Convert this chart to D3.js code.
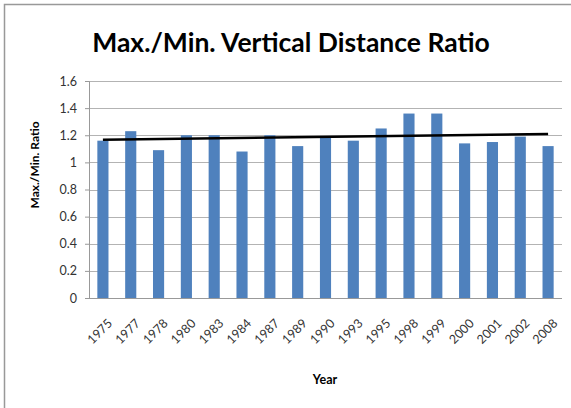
<!DOCTYPE html>
<html><head><meta charset="utf-8">
<script src="https://cdn.jsdelivr.net/npm/d3@7"></script>
<style>body{margin:0;background:#fff;}svg{display:block;}</style>
</head><body>
<script>
const years = ["1975","1977","1978","1980","1983","1984","1987","1989","1990","1993","1995","1998","1999","2000","2001","2002","2008"];
const ratios = [1.16,1.23,1.09,1.2,1.2,1.08,1.2,1.12,1.19,1.16,1.25,1.36,1.36,1.14,1.15,1.19,1.12];
const yTicks = [0,0.2,0.4,0.6,0.8,1,1.2,1.4,1.6];
const titleText = "Max./Min. Vertical Distance Ratio";
const yLabel = "Max./Min. Ratio";
const xLabel = "Year";

const W = 571, H = 408;
const m = {left: 89, right: 9, top: 81, bottom: 110};
const svg = d3.select("body").append("svg").attr("width", W).attr("height", H);
const font = "Lato, 'Open Sans', sans-serif";

// chart border (cropped on right/bottom)
svg.append("path").attr("d", `M4.5,${H} V4.5 H${W}`).attr("fill","none").attr("stroke","#999").attr("stroke-width",1.5);

const x = d3.scaleBand().domain(years).range([m.left, W - m.right]).paddingInner(0.6).paddingOuter(0.3);
const y = d3.scaleLinear().domain([0,1.6]).range([298, 81]);

// gridlines
svg.append("g").selectAll("line").data(yTicks.filter(d=>d>0)).join("line")
  .attr("x1", m.left).attr("x2", W - m.right)
  .attr("y1", d=>Math.round(y(d))+0.5).attr("y2", d=>Math.round(y(d))+0.5)
  .attr("stroke","#b3b3b3").attr("stroke-width",1);

// y axis
const yAxis = svg.append("g").attr("transform",`translate(${m.left},0)`)
  .call(d3.axisLeft(y).tickValues(yTicks).tickFormat(d3.format("~g")).tickSize(4).tickPadding(8));
yAxis.select(".domain").attr("stroke","#999");
yAxis.selectAll(".tick line").attr("stroke","#999");
yAxis.selectAll("text").attr("font-family",font).attr("font-size",12.5).attr("fill","#333");

// bars
svg.append("g").selectAll("rect").data(years).join("rect")
  .attr("x", d=>x(d)).attr("width", x.bandwidth())
  .attr("y", (d,i)=>y(ratios[i])).attr("height",(d,i)=>y(0)-y(ratios[i]))
  .attr("fill","#4f81bd");

// x axis line
svg.append("line").attr("x1",m.left).attr("x2",W-m.right).attr("y1",298.5).attr("y2",298.5).attr("stroke","#999");

// x labels
svg.append("g").selectAll("text").data(years).join("text")
  .attr("transform", d=>`translate(${x(d)+x.bandwidth()/2+4},${318}) rotate(-45)`)
  .attr("text-anchor","end").attr("dy","0.7em")
  .attr("font-family",font).attr("font-size",12.5).attr("fill","#333").text(d=>d);

// linear trendline (least squares)
const n = ratios.length, idx = d3.range(n);
const mx = d3.mean(idx), my = d3.mean(ratios);
const slope = d3.sum(idx, i=>(i-mx)*(ratios[i]-my)) / d3.sum(idx, i=>(i-mx)*(i-mx));
const icpt = my - slope*mx;
const cx = i => x(years[i]) + x.bandwidth()/2;
svg.append("line")
  .attr("x1", cx(0)).attr("y1", y(icpt))
  .attr("x2", cx(n-1)).attr("y2", y(icpt + slope*(n-1)))
  .attr("stroke","#000").attr("stroke-width",2.5);

// title
svg.append("text").attr("x",291).attr("y",52).attr("text-anchor","middle")
  .attr("font-family",font).attr("font-weight","bold").attr("font-size",26.5).attr("fill","#000").text(titleText);

// axis titles
svg.append("text").attr("transform","translate(39,165) rotate(-90)").attr("text-anchor","middle")
  .attr("font-family",font).attr("font-weight","bold").attr("font-size",12).attr("fill","#000").text(yLabel);
svg.append("text").attr("x",325).attr("y",384).attr("text-anchor","middle")
  .attr("font-family",font).attr("font-weight","bold").attr("font-size",12.5).attr("fill","#000").text(xLabel);
</script>
</body></html>
